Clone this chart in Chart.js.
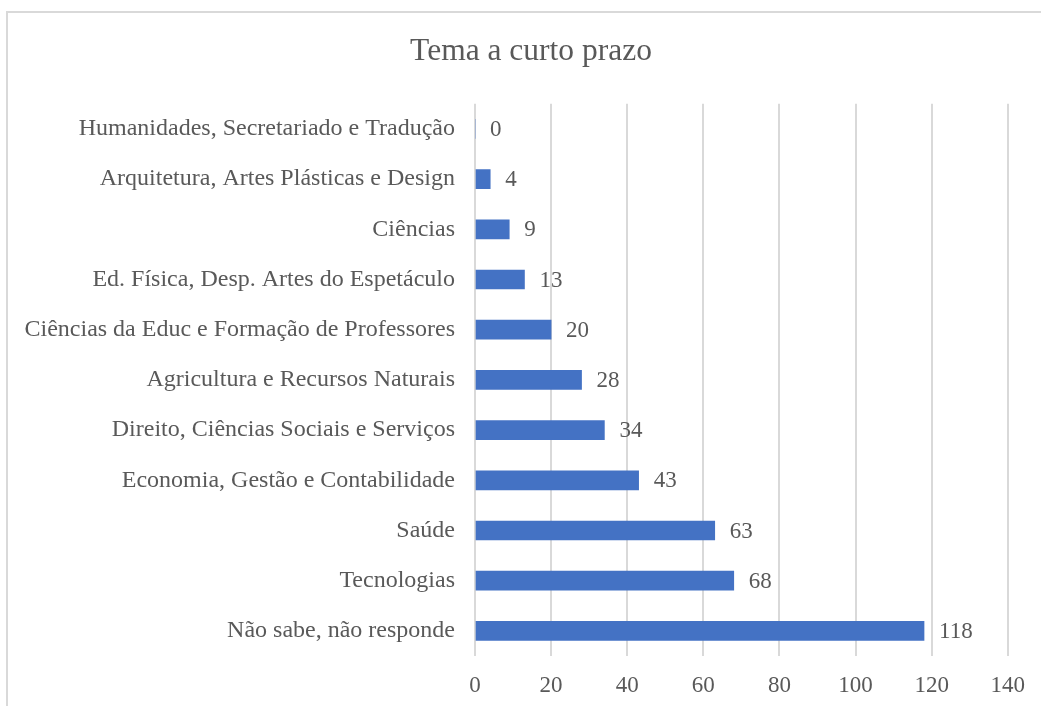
<!DOCTYPE html>
<html>
<head>
<meta charset="utf-8">
<script src="https://cdn.jsdelivr.net/npm/chart.js@4"></script>
<style>
  html, body { margin: 0; padding: 0; background: #fff; overflow: hidden; }
  #wrap { position: relative; width: 1041px; height: 706px; }
  #frame {
    position: absolute; left: 6px; top: 11px; width: 1100px; height: 800px;
    border-left: 2px solid #d9d9d9; border-top: 2px solid #d9d9d9;
  }
  #chart { position: absolute; left: 0; top: 0; }
</style>
</head>
<body>
<div id="wrap">
  <div id="frame"></div>
  <canvas id="chart" width="1041" height="706"></canvas>
</div>
<script>
// dados do gráfico
const categorias = [
    'Humanidades, Secretariado e Tradução',
    'Arquitetura, Artes Plásticas e Design',
    'Ciências',
    'Ed. Física, Desp. Artes do Espetáculo',
    'Ciências da Educ e Formação de Professores',
    'Agricultura e Recursos Naturais',
    'Direito, Ciências Sociais e Serviços',
    'Economia, Gestão e Contabilidade',
    'Saúde',
    'Tecnologias',
    'Não sabe, não responde'
];
const valores = [0, 4, 9, 13, 20, 28, 34, 43, 63, 68, 118];
const ticksX = [0, 20, 40, 60, 80, 100, 120, 140];

const corTexto = '#595959';
const fonte = '"Liberation Serif", "Times New Roman", serif';

// rótulos de valor à direita das barras
const rotulosValor = {
    id: 'rotulosValor',
    afterLayout(chart) {
        // centra o título como no original
        if (chart.titleBlock) chart.titleBlock.left = 54;
    },
    afterDatasetsDraw(chart) {
        const ctx = chart.ctx;
        const meta = chart.getDatasetMeta(0);
        ctx.save();
        ctx.font = '23px ' + fonte;
        ctx.fillStyle = corTexto;
        ctx.textAlign = 'left';
        ctx.textBaseline = 'middle';
        meta.data.forEach((bar, i) => {
            ctx.fillText(String(valores[i]), bar.x + 15, bar.y + 1);
        });
        ctx.restore();
    }
};

new Chart(document.getElementById('chart').getContext('2d'), {
    type: 'bar',
    data: {
        labels: categorias,
        datasets: [{
            data: valores,
            backgroundColor: '#4472c4',
            barThickness: 19
        }]
    },
    options: {
        indexAxis: 'y',
        responsive: false,
        animation: false,
        layout: { padding: { left: 0, right: 33, top: 0, bottom: 0 } },
        plugins: {
            legend: { display: false },
            tooltip: { enabled: false },
            title: {
                display: true,
                text: 'Tema a curto prazo',
                color: corTexto,
                font: { family: fonte, size: 31.5, weight: 'normal' },
                padding: { top: 33, bottom: 33 }
            }
        },
        scales: {
            x: {
                min: 0,
                max: 140,
                afterBuildTicks(scale) {
                    scale.ticks = ticksX.map(v => ({ value: v }));
                },
                afterFit(scale) { scale.height = 50; },
                grid: { color: '#d9d9d9', lineWidth: 2, drawTicks: false },
                border: { display: false },
                ticks: {
                    color: corTexto,
                    padding: 16,
                    font: { family: fonte, size: 23 }
                }
            },
            y: {
                afterFit(scale) { scale.width = 475; },
                grid: { display: false, drawTicks: false },
                border: { display: false },
                ticks: {
                    color: corTexto,
                    padding: 20,
                    font: { family: fonte, size: 24 }
                }
            }
        }
    },
    plugins: [rotulosValor]
});
</script>
</body>
</html>
